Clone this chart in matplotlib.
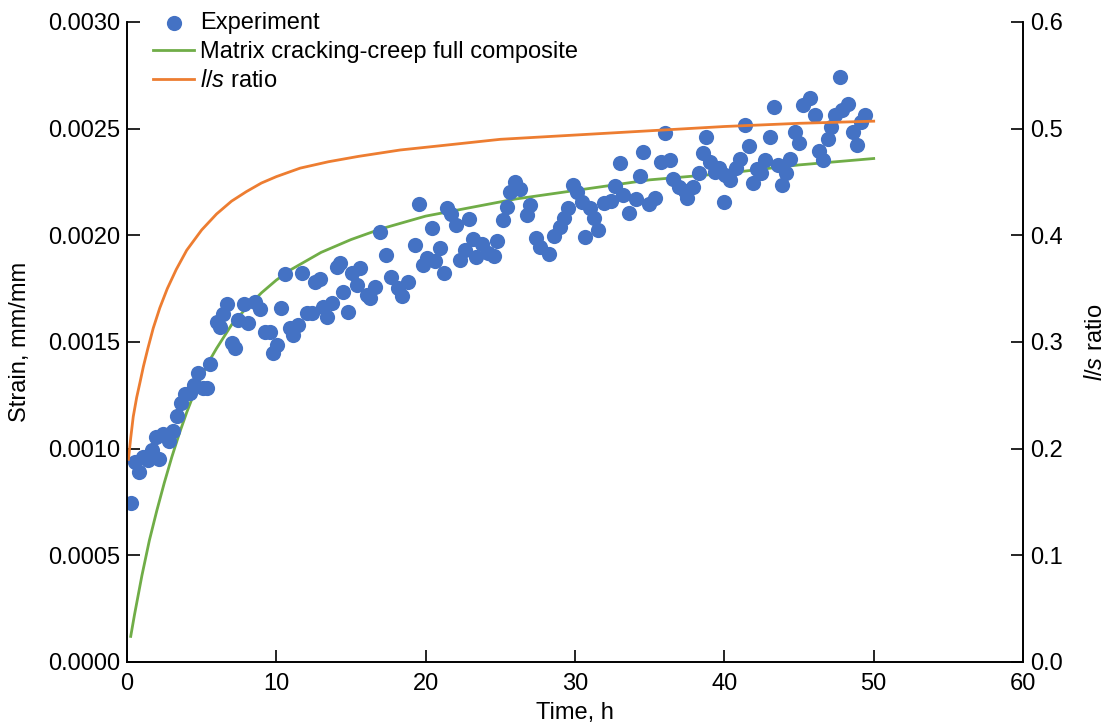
import matplotlib
matplotlib.use("Agg")
import matplotlib.pyplot as plt
import numpy as np

plt.rcParams['font.family'] = ['Liberation Sans', 'DejaVu Sans']
plt.rcParams['mathtext.fontset'] = 'custom'
plt.rcParams['mathtext.rm'] = 'Liberation Sans'
plt.rcParams['mathtext.it'] = 'Liberation Sans:italic'

# Experiment (time in h, strain in mm/mm)
exp_time = [0.25, 0.54, 0.82, 1.09, 1.43, 1.65, 1.94, 2.16, 2.43, 2.83,
            3.06, 3.33, 3.59, 3.88, 4.22, 4.48, 4.77, 5.11, 5.37, 5.56,
            6.00, 6.22, 6.41, 6.71, 7.01, 7.23, 7.45, 7.83, 8.12, 8.57,
            8.90, 9.24, 9.57, 9.79, 10.02, 10.29, 10.58, 10.91, 11.13, 11.47,
            11.69, 12.03, 12.36, 12.58, 12.92, 13.14, 13.41, 13.70, 14.04, 14.26,
            14.48, 14.81, 15.04, 15.37, 15.60, 16.04, 16.27, 16.60, 16.93, 17.34,
            17.67, 18.16, 18.39, 18.83, 19.28, 19.56, 19.83, 20.06, 20.40, 20.62,
            20.95, 21.22, 21.45, 21.73, 22.05, 22.32, 22.62, 22.91, 23.18, 23.36,
            23.80, 24.16, 24.56, 24.77, 25.15, 25.42, 25.64, 25.97, 26.34, 26.81,
            27.01, 27.38, 27.64, 28.25, 28.58, 29.02, 29.25, 29.54, 29.87, 30.15,
            30.49, 30.66, 30.99, 31.26, 31.55, 31.93, 32.40, 32.66, 32.98, 33.22,
            33.60, 34.07, 34.34, 34.54, 34.94, 35.34, 35.79, 36.01, 36.35, 36.57,
            36.95, 37.35, 37.52, 37.90, 38.29, 38.55, 38.80, 39.02, 39.36, 39.63,
            39.96, 40.03, 40.39, 40.78, 41.03, 41.37, 41.62, 41.92, 42.17, 42.48,
            42.70, 43.04, 43.31, 43.59, 43.84, 44.14, 44.38, 44.71, 45.00, 45.27,
            45.72, 46.05, 46.37, 46.63, 46.94, 47.17, 47.39, 47.72, 47.89, 48.28,
            48.61, 48.90, 49.18, 49.40]
exp_strain = [0.000744, 0.000939, 0.000892, 0.000962, 0.000947, 0.000994, 0.001056, 0.000952, 0.001069, 0.001037,
              0.001084, 0.001153, 0.001213, 0.001256, 0.001261, 0.001298, 0.001356, 0.001283, 0.001283, 0.001397,
              0.001595, 0.001570, 0.001631, 0.001678, 0.001494, 0.001470, 0.001603, 0.001678, 0.001588, 0.001689,
              0.001653, 0.001548, 0.001548, 0.001447, 0.001486, 0.001658, 0.001819, 0.001564, 0.001533, 0.001580,
              0.001822, 0.001634, 0.001637, 0.001783, 0.001794, 0.001665, 0.001619, 0.001684, 0.001853, 0.001872,
              0.001736, 0.001642, 0.001822, 0.001767, 0.001845, 0.001720, 0.001705, 0.001759, 0.002016, 0.001908,
              0.001806, 0.001752, 0.001716, 0.001783, 0.001955, 0.002147, 0.001861, 0.001892, 0.002033, 0.001880,
              0.001939, 0.001825, 0.002127, 0.002100, 0.002048, 0.001884, 0.001931, 0.002075, 0.001983, 0.001900,
              0.001959, 0.001917, 0.001903, 0.001973, 0.002072, 0.002134, 0.002205, 0.002251, 0.002217, 0.002095,
              0.002142, 0.001986, 0.001947, 0.001913, 0.001997, 0.002037, 0.002080, 0.002127, 0.002236, 0.002201,
              0.002158, 0.001991, 0.002127, 0.002080, 0.002025, 0.002152, 0.002161, 0.002232, 0.002341, 0.002189,
              0.002103, 0.002171, 0.002278, 0.002392, 0.002147, 0.002173, 0.002344, 0.002478, 0.002353, 0.002264,
              0.002227, 0.002208, 0.002177, 0.002227, 0.002292, 0.002387, 0.002461, 0.002344, 0.002297, 0.002316,
              0.002158, 0.002283, 0.002261, 0.002314, 0.002358, 0.002517, 0.002419, 0.002243, 0.002311, 0.002291,
              0.002353, 0.002460, 0.002603, 0.002330, 0.002234, 0.002291, 0.002359, 0.002486, 0.002431, 0.002611,
              0.002642, 0.002562, 0.002397, 0.002353, 0.002453, 0.002509, 0.002564, 0.002744, 0.002589, 0.002616,
              0.002486, 0.002423, 0.002533, 0.002566]

# Model curve: matrix cracking-creep full composite
model_time = [0.25, 0.5, 1.0, 1.5, 2.0, 2.5, 3.0, 3.5, 4.0, 4.5,
              5.0, 5.5, 6.0, 7.0, 8.0, 9.0, 10.0, 11.0, 12.0, 13.0,
              14.0, 15.0, 17.0, 20.0, 23.0, 26.0, 30.0, 35.0, 40.0, 45.0, 50.0]
model_strain = [0.00012, 0.00022, 0.000405, 0.00057, 0.00071, 0.00084, 0.00096, 0.00107, 0.00117, 0.00126,
                0.00134, 0.00141, 0.00147, 0.00158, 0.00166, 0.00173, 0.00179, 0.00184, 0.00188, 0.00192,
                0.00195, 0.00198, 0.00203, 0.00209, 0.00213, 0.00217, 0.00221, 0.00226, 0.00229, 0.00233, 0.00236]

# l/s ratio (right axis)
ratio_time = [0.1, 0.25, 0.42, 0.65, 0.87, 1.1, 1.4, 1.76, 2.2, 2.7,
              3.3, 4.0, 5.0, 6.0, 7.0, 8.0, 9.0, 10.0, 11.6, 13.5,
              15.5, 18.3, 21.0, 25.0, 30.0, 35.0, 40.0, 45.0, 50.0]
ratio_val = [0.19, 0.21, 0.23, 0.248, 0.262, 0.277, 0.294, 0.313, 0.332, 0.350,
             0.368, 0.386, 0.405, 0.420, 0.432, 0.441, 0.449, 0.455, 0.463, 0.469,
             0.474, 0.480, 0.484, 0.490, 0.494, 0.498, 0.502, 0.505, 0.507]

fs = 17

fig = plt.figure(figsize=(11.06, 7.23), dpi=100)
ax = fig.add_axes([0.1148, 0.0844, 0.8102, 0.8852])
ax2 = ax.twinx()

# green under the dots, orange on top (second axis)
l1, = ax.plot(model_time, model_strain, color='#70AD47', lw=2, zorder=1,
              label='Matrix cracking-creep full composite')
sc = ax.scatter(exp_time, exp_strain, s=120, color='#4472C4', zorder=2,
                linewidths=0, label='Experiment')
l2, = ax2.plot(ratio_time, ratio_val, color='#ED7D31', lw=2,
               label='$\\it{l/s}$ ratio')

ax.set_xlim(0, 60)
ax.set_ylim(0, 0.003)
ax2.set_ylim(0, 0.6)
ax.set_xticks(np.arange(0, 61, 10))
ax.set_yticks(np.arange(0, 0.00301, 0.0005))
ax.set_yticklabels([f"{v:.4f}" for v in np.arange(0, 0.00301, 0.0005)])
ax2.set_yticks(np.arange(0, 0.61, 0.1))
ax2.set_yticklabels([f"{v:.1f}" for v in np.arange(0, 0.61, 0.1)])

for a in (ax, ax2):
    a.spines['top'].set_visible(False)
    for s in a.spines.values():
        s.set_linewidth(1.2)
    a.tick_params(direction='in', length=9, width=1.2, labelsize=fs, pad=5)
ax.tick_params(axis='x', pad=8)

ax.set_xlabel('Time, h', fontsize=fs, labelpad=5)
ax.set_ylabel('Strain, mm/mm', fontsize=fs, labelpad=12)
ax2.set_ylabel('$\\it{l/s}$ ratio', fontsize=fs, labelpad=16)

ax2.legend([sc, l1, l2], [sc.get_label(), l1.get_label(), l2.get_label()],
           loc='upper left', bbox_to_anchor=(0.029, 1.016), frameon=False,
           fontsize=fs, handlelength=1.75, handletextpad=0.25,
           labelspacing=0.3, borderaxespad=0, borderpad=0)

plt.savefig('out.png', dpi=100)
